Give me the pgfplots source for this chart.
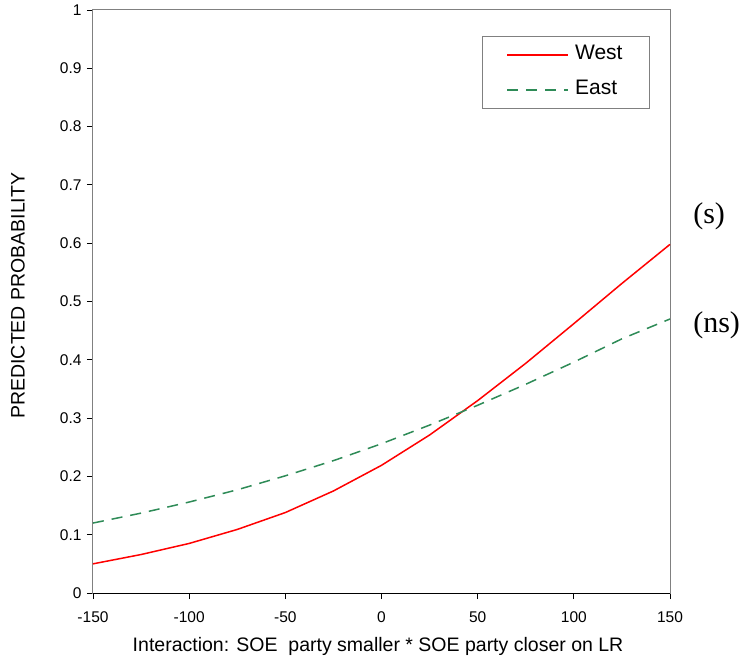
\documentclass[border=0pt]{standalone}
\usepackage{fontspec}
\setmainfont{Liberation Sans}
\newfontfamily\timesfont{Liberation Serif}
\usepackage{pgfplots}
\pgfplotsset{compat=1.18}
\definecolor{eastgreen}{RGB}{46,139,87}
\begin{document}
\begin{tikzpicture}
\path[use as bounding box] (-93pt,-68pt) rectangle (653pt,593pt);
\begin{axis}[
    at={(0,0)}, anchor=south west,
    scale only axis, width=577pt, height=583pt,
    xmin=-150, xmax=150, ymin=0, ymax=1,
    xtick={-150,-100,...,150},
    ytick={0,0.1,...,1},
    yticklabels={0,0.1,0.2,0.3,0.4,0.5,0.6,0.7,0.8,0.9,1},
    xtick pos=bottom, ytick pos=left,
    tick align=outside,
    major tick length=6pt,
    tick style={black, line width=0.8pt},
    axis line style={draw=gray, line width=1pt},
    /pgf/number format/assume math mode=true,
    ticklabel style={font=\fontsize{15.5}{15.5}\selectfont},
    xticklabel style={yshift=-9pt},
    yticklabel style={xshift=-2pt},
    xlabel={Interaction: SOE\ \ party smaller * SOE party closer on LR},
    ylabel={PREDICTED PROBABILITY},
    label style={font=\fontsize{19.5}{19.5}\selectfont},
    xlabel style={at={(axis description cs:0.494,-0.0909)}, anchor=center},
    ylabel style={at={(axis description cs:-0.130,0.51)}, anchor=center},
    legend style={at={(rel axis cs:0.9653,0.9554)}, anchor=north east,
        draw=gray, line width=0.8pt, inner xsep=24pt, inner ysep=5.5pt,
        row sep=9pt,
        nodes={inner sep=3pt, text height=15pt, text depth=5pt},
        font=\fontsize{21}{21}\selectfont},
    legend cell align=left,
    legend image code/.code={\draw[#1, line width=1.5pt] (0pt,0pt) -- (61pt,0pt); \path (64pt,0pt);},
    clip=false,
]
\addplot[red, line width=1.5pt] coordinates {
  (-150,0.050) (-125,0.066) (-100,0.085) (-75,0.109) (-50,0.138) (-25,0.175)
  (0,0.219) (25,0.271) (50,0.330) (75,0.394) (100,0.462) (125,0.531) (150,0.598)
};
\addlegendentry{West}
\addplot[eastgreen, line width=1.5pt, dash pattern=on 11pt off 8pt] coordinates {
  (-150,0.120) (-125,0.137) (-100,0.156) (-75,0.177) (-50,0.201) (-25,0.227)
  (0,0.256) (25,0.288) (50,0.322) (75,0.358) (100,0.396) (125,0.436) (150,0.470)
};
\addlegendentry{East}
\draw[black, line width=1pt] (rel axis cs:0,0) -- (rel axis cs:1,0);
\node[anchor=west, inner sep=0pt, font=\timesfont\fontsize{30}{30}\selectfont] at (rel axis cs:1.04,0.647) {(s)};
\node[anchor=west, inner sep=0pt, font=\timesfont\fontsize{30}{30}\selectfont] at (rel axis cs:1.04,0.46) {(ns)};
\end{axis}
\end{tikzpicture}
\end{document}
